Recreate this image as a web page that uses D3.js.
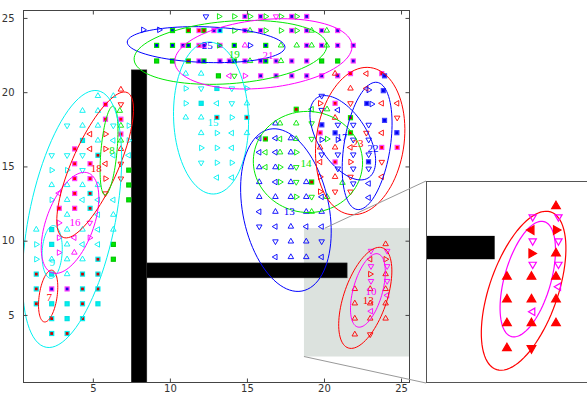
<!DOCTYPE html>
<html>
<head>
<meta charset="utf-8">
<script src="https://cdn.jsdelivr.net/npm/d3@7"></script>
<style>
  html, body { margin: 0; padding: 0; background: #fff; }
  svg { display: block; }
</style>
</head>
<body>
<svg id="chart" width="587" height="394"></svg>
<script>
// ---------- data ----------
const xTicks = [5, 10, 15, 20, 25];
const yTicks = [5, 10, 15, 20, 25];

// obstacles [x0, y0, x1, y1]
const walls = [[7.5, 0.45, 8.5, 21.5], [8.5, 7.5, 21.5, 8.5]];
// magnified region [x0, y0, x1, y1]
const zoomRegion = [18.7, 2.2, 25.55, 10.85];

// open triangle markers, one array per colour and direction
const redUp = [[6.82,20.18],[6.82,16.18],[20.72,21.25],[21.72,20.25],[20.72,18.28],[19.75,16.28],[20.72,16.28],[20.72,14.3],
  [24,9.77],[24,7.75],[22,6.75],[23,6.75],[24,6.75],[22,5.78],[23,5.78],[24,5.78],[22,4.76],[23,4.76],[24,4.76],[22,3.69]];
const redDown = [[6.82,19.18],[6.82,15.18],[6.82,14.18],[5.82,13.18],[21.72,19.25],[24.75,18.28],[22.75,17.26],[23.75,15.3],
  [21.72,14.3],[21.72,13.3],[20.72,13.3],[23,3.69]];
const redLeft = [[4.82,17.18],[4.82,16.18],[5.82,15.18],[22.75,21.25],[22.75,20.25],[23.75,19.25],[24.75,19.25],[23.75,17.26],
  [21.72,16.28],[19.75,15.3],[23.75,14.3],[23,8.75]];
const redRight = [[5.82,17.18],[5.82,16.18],[5.82,14.18],[19.75,19.25],[21.72,15.3],[19.75,14.3],[19.75,13.3],[24,8.75],[23,7.75]];

const blueUp = [[16.85,17.9],[17.85,16.9],[17.85,15.95],[15.8,14.95],[16.85,14.95],[17.85,14.95],[15.8,13.95],[17.85,13.95],
  [18.85,13.95],[15.8,12.95],[16.85,12.95],[17.85,12.95],[18.85,12.95],[16.85,11.95],[18.85,11.95],[19.85,11.95],[17.85,10.95],
  [17.85,9.95],[18.85,9.95],[17.85,8.9],[18.85,8.9]];
const blueDown = [[15.8,10.95],[16.85,9.95],[19.85,9.95],[12.34,25.1],[19.85,19.75],[19.85,18.8],[20.9,17.8],[21.9,17.8],
  [22.9,17.8],[21.9,16.8],[22.9,16.8],[19.85,15.8],[20.9,15.8],[21.9,15.8],[22.9,15.8],[20.9,14.85],[21.9,14.85],[22.9,14.85],[21.9,13.85]];
const blueLeft = [[15.8,16.9],[16.85,16.9],[15.8,15.95],[16.85,15.95],[16.85,13.95],[19.85,12.95],[15.8,11.95],[16.85,10.95],
  [18.85,10.95],[19.85,10.95],[16.85,8.9],[19.85,8.9],[20.9,18.8],[22.9,13.85],[22.9,12.9]];
const blueRight = [[8.27,24.2],[9.31,24.2],[15.2,23.15],[22.9,20.15],[23.1,19.2],[19.85,16.8],[20.9,16.8]];

const greenUp = [[6.75,18.75],[6.82,17.75],[6.82,16.75],[15.2,24.15],[19.2,24.15],[20.18,24.15],[17.21,23.15],[18.23,23.15],
  [19.2,23.15],[20.18,23.15],[15.2,22.1],[17.21,22.1],[17.15,17.9],[18.2,17.9],[18.2,16.85],[17.15,15.95],[20.2,18.85],
  [20.2,12.95],[21.2,13.9],[19.2,11.95]];
const greenDown = [[14.18,21.1],[19.2,16.85],[18.2,14.95],[18.2,13.95],[19.2,12.95],[19.2,17.9]];
const greenLeft = [[17.15,16.85],[16.2,15.95],[16.2,14.95],[19.2,18.85]];
const greenRight = [[13.19,25.1],[14.18,25.1],[15.2,25.1],[16.22,25.1],[17.21,25.1],[18.23,25.1],[14.18,24.15],[16.22,24.15],
  [17.21,24.15],[18.23,24.15],[13.19,23.15],[18.2,15.95],[17.15,14.95],[17.15,13.95],[18.2,12.95],[20.2,16.85]];

const cyanUp = [[5.33,19.75],[6.33,19.75],[4.33,18.75],[5.33,18.75],[4.33,17.75],[5.33,17.75],[5.33,16.75],[2.33,13.75],
  [3.33,13.75],[4.33,13.75],[5.33,13.75],[3.33,12.75],[3.33,11.75],[6.33,11.75],[1.33,10.75],[3.33,10.75],[4.33,10.75],
  [6.33,10.75],[3.33,9.75],[2.33,8.75],[3.33,8.75],[4.33,8.75],[3.33,7.75],[11.03,21.25],[12.03,21.25],[11.03,18.3],
  [12.03,18.3],[12.03,17.25],[15,17.25],[15,19.25]];
const cyanDown = [[3.33,17.75],[6.33,17.75],[2.33,15.75],[3.33,15.75],[4.33,15.75],[4.33,14.75],[12.03,20.25],[14.02,20.25],
  [14.02,19.25],[12.03,15.25]];
const cyanLeft = [[6.33,16.75],[6.33,15.75],[7.33,15.75],[4.33,12.75],[5.33,12.75],[6.33,12.75],[5.33,11.75],[5.33,10.75],
  [4.33,9.75],[5.33,9.75],[13.05,19.25],[14.02,17.25],[14.02,16.25],[13.05,14.25],[14.02,14.25]];
const cyanRight = [[7.33,17.75],[7.33,16.75],[2.33,14.75],[3.33,14.75],[2.33,12.75],[1.33,9.75],[1.33,8.75],[11.03,20.25],
  [15,20.25],[11.03,19.25],[14.02,18.3],[13.05,17.25],[12.03,16.25],[13.05,16.25],[13.05,15.25],[14.02,15.25]];

const magentaUp = [[3.8,9.2],[14.87,23.15]];
const magentaDown = [[4.8,11.2],[16.89,25.1],[23.05,9.31],[24.1,9.31],[23.05,8.28],[24.1,8.28],[23.05,7.28],[24.1,7.28]];
const magentaLeft = [[3.8,10.2],[2.8,13.2],[13.86,21.1],[24.1,6.32],[23.05,5.25]];
const magentaRight = [[2.8,11.2],[2.8,10.2],[4.8,10.2],[2.8,9.2],[14.87,21.1]];

// square markers: named <centre colour><edge colour>
const sqRedMagenta = [[5.82,19.18],[5.82,18.18],[6.82,18.18],[6.82,17.18],[3.82,16.18],[3.82,15.18],[4.82,15.18],[3.82,14.18],
  [4.82,14.18],[3.82,13.18],[2.82,12.18],[3.82,12.18],[11.89,24.15],[11.89,23.15],[21.72,21.25],[23.75,21.25],[20.72,19.25],
  [19.75,17.26],[23.75,16.28],[24.75,16.28],[20.72,15.3]];
const sqRedCyan = [[4.82,13.18],[4.82,12.18],[5.33,15.75],[5.33,8.75],[1.33,7.75],[4.33,7.75],[5.33,7.75],[1.33,6.75],
  [4.33,6.75],[5.33,6.75],[1.33,5.75],[4.33,5.75],[2.33,4.75],[4.33,4.75],[2.33,3.75],[3.33,3.75],[13.05,18.3],[15,18.3]];
const sqRedGreen = [[11.2,24.15],[12.21,24.15],[11.2,22.1],[16.2,16.85],[18.2,18.85],[19.2,13.95],[21.72,18.28],[21.72,17.26]];
const sqBlueMagenta = [[14.87,25.1],[15.89,25.1],[17.91,25.1],[18.88,25.1],
  [12.86,24.15],[14.87,24.15],[15.89,24.15],[17.91,24.15],[18.88,24.15],[19.85,24.15],[20.89,24.15],
  [10.85,23.15],[12.21,23.15],[13.25,23.15],[18.88,23.15],[19.85,23.15],[20.89,23.15],[21.9,23.15],
  [11.89,22.1],[13.25,22.1],[13.86,22.1],[14.87,22.1],[15.89,22.1],[16.89,22.1],[17.91,22.1],[18.88,22.1],[21.9,22.1],
  [15.89,21.1],[16.89,21.1],[17.91,21.1],[18.88,21.1],[19.85,21.1],[20.89,21.1],[2.33,6.75],[3.33,6.75]];
const sqBlueGreen = [[10.17,24.15],[9.14,23.15],[10.17,23.15],[11.2,23.15],[14.18,23.15],[16.22,23.15],[12.21,22.1],[14.18,22.1],[16.22,22.1]];
const sqBlueCyan = [[13.25,24.15]];
const sqBlue = [[23.93,21.1],[23.85,20.1],[22.78,19.24],[23.93,18.1],[24.73,17.27],[22.89,15.31],[19.86,17.8],[20.72,17.26]];
const sqGreen = [[9.14,22.1],[10.17,22.1],[19.85,22.1],[20.89,22.1],[13.15,21.1],[7.33,14.75],[7.33,13.75],[7.33,12.75],[6.33,9.75],[6.33,8.75]];
const sqCyan = [[4.33,16.75],[2.33,10.75],[2.33,9.75],[2.33,7.75],[2.33,5.75],[3.33,5.75],[5.33,5.75],[3.33,4.75],[13.05,20.25],[12.03,19.25]];

// cluster covariance ellipses: centre, semi-axes, orientation (degrees)
const clusterColor = ["red","cyan","magenta","red","green","cyan","blue","green","magenta","cyan","blue","green","blue","blue","red","red","magenta"];
const clusterCx    = [2.1, 2.36, 3.52, 5.15, 6.05, 3.65, 12.35, 13.93, 16.07, 12.67, 17.53, 18.96, 21.22, 22.8, 22.35, 22.68, 22.85];
const clusterCy    = [6.27, 9.24, 11.2, 15.1, 16.07, 11.46, 23.2, 22.68, 22.58, 18.26, 12.06, 15.3, 16.93, 16.38, 16.71, 6.15, 6.65];
const clusterA     = [1.76, 1.78, 3.56, 5.3, 3.0, 8.8, 5.12, 6.27, 5.78, 5.12, 5.55, 3.55, 3.17, 4.33, 4.99, 3.55, 2.55];
const clusterB     = [0.58, 0.65, 1.55, 1.5, 0.52, 2.8, 1.2, 2.1, 2.3, 2.43, 2.8, 3.4, 1.6, 1.5, 2.85, 1.4, 0.95];
const clusterAngle = [82, 87, 71, 67, 85, 79, -2, 4.6, 6, 92, 100.8, -10, -59, 81.4, 82.5, 72, 75];

// cluster id labels
const labelText  = ["7","9","16","18","8","15","13","14","17","23","22","19","21","25","13","10"];
const labelColor = ["red","cyan","magenta","red","green","cyan","blue","green","blue","red","blue","green","magenta","blue","red","magenta"];
const labelX     = [2.17, 2.36, 3.85, 5.22, 6.25, 12.8, 17.74, 18.84, 21.17, 22.2, 23.18, 14.17, 16.37, 12.42, 22.87, 23.05];
const labelY     = [6.2, 8.57, 11.25, 14.88, 16.09, 17.98, 11.99, 15.22, 16.97, 16.57, 16.23, 22.56, 22.49, 23.16, 6.0, 6.6];

// ---------- styles ----------
const COLORS = { red: "#ff0000", green: "#00e800", blue: "#0000ff", cyan: "#00f0f0", magenta: "#ff00ff" };

const triangleSeries = [
  { pts: redUp, dir: "up", col: "red" }, { pts: redDown, dir: "down", col: "red" },
  { pts: redLeft, dir: "left", col: "red" }, { pts: redRight, dir: "right", col: "red" },
  { pts: blueUp, dir: "up", col: "blue" }, { pts: blueDown, dir: "down", col: "blue" },
  { pts: blueLeft, dir: "left", col: "blue" }, { pts: blueRight, dir: "right", col: "blue" },
  { pts: greenUp, dir: "up", col: "green" }, { pts: greenDown, dir: "down", col: "green" },
  { pts: greenLeft, dir: "left", col: "green" }, { pts: greenRight, dir: "right", col: "green" },
  { pts: cyanUp, dir: "up", col: "cyan" }, { pts: cyanDown, dir: "down", col: "cyan" },
  { pts: cyanLeft, dir: "left", col: "cyan" }, { pts: cyanRight, dir: "right", col: "cyan" },
  { pts: magentaUp, dir: "up", col: "magenta" }, { pts: magentaDown, dir: "down", col: "magenta" },
  { pts: magentaLeft, dir: "left", col: "magenta" }, { pts: magentaRight, dir: "right", col: "magenta" }
];
const squareSeries = [
  { pts: sqCyan, fill: "#00f0f0", edge: "#00e0e0" },
  { pts: sqGreen, fill: "#00e800", edge: "#00c800" },
  { pts: sqRedCyan, fill: "#d00000", edge: "#00f0f0" },
  { pts: sqRedMagenta, fill: "#ff0000", edge: "#ff40ff" },
  { pts: sqRedGreen, fill: "#d00000", edge: "#00e800" },
  { pts: sqBlueMagenta, fill: "#2000e0", edge: "#ff40ff" },
  { pts: sqBlueGreen, fill: "#0000e0", edge: "#00e800" },
  { pts: sqBlueCyan, fill: "#0000e0", edge: "#00f0f0" },
  { pts: sqBlue, fill: "#0000f0", edge: "#4040ff" }
];

// ---------- layout ----------
const svg = d3.select("#chart");
const plot = { left: 23.5, right: 409.5, top: 10.5, bottom: 382.5 };
const x = d3.scaleLinear().domain([0.5, 25.55]).range([plot.left, plot.right]);
const y = d3.scaleLinear().domain([0.45, 25.5]).range([plot.bottom, plot.top]);

const inset = { left: 426, top: 181, width: 168, height: 202 };
const xi = d3.scaleLinear().domain([zoomRegion[0], zoomRegion[2]]).range([inset.left, inset.left + inset.width]);
const yi = d3.scaleLinear().domain([zoomRegion[1], zoomRegion[3]]).range([inset.top + inset.height, inset.top]);

const defs = svg.append("defs");
defs.append("clipPath").attr("id", "plotClip").append("rect")
  .attr("x", plot.left).attr("y", plot.top)
  .attr("width", plot.right - plot.left).attr("height", plot.bottom - plot.top);
defs.append("clipPath").attr("id", "insetClip").append("rect")
  .attr("x", inset.left).attr("y", inset.top).attr("width", inset.width).attr("height", inset.height);

function trianglePath(dir, r) {
  const base = { up: -90, down: 90, left: 180, right: 0 }[dir];
  const pts = d3.range(3).map(k => {
    const a = (base + k * 120) * Math.PI / 180;
    return [r * Math.cos(a), r * Math.sin(a)];
  });
  return "M" + pts.map(p => p[0].toFixed(2) + "," + p[1].toFixed(2)).join("L") + "Z";
}

function ellipsePath(i, sx, sy) {
  const th = clusterAngle[i] * Math.PI / 180;
  const pts = d3.range(0, 361, 4).map(t => {
    const u = t * Math.PI / 180;
    const ex = clusterA[i] * Math.cos(u), ey = clusterB[i] * Math.sin(u);
    return [clusterCx[i] + ex * Math.cos(th) - ey * Math.sin(th),
            clusterCy[i] + ex * Math.sin(th) + ey * Math.cos(th)];
  });
  return d3.line().x(d => sx(d[0])).y(d => sy(d[1]))(pts) + "Z";
}

// ---------- main panel ----------
const g = svg.append("g").attr("clip-path", "url(#plotClip)");

g.append("rect")
  .attr("x", x(zoomRegion[0])).attr("y", y(zoomRegion[3]))
  .attr("width", x(zoomRegion[2]) - x(zoomRegion[0]))
  .attr("height", y(zoomRegion[1]) - y(zoomRegion[3]))
  .attr("fill", "#dce2de");

g.selectAll("rect.wall").data(walls).join("rect").attr("class", "wall")
  .attr("x", d => x(d[0])).attr("y", d => y(d[3]))
  .attr("width", d => x(d[2]) - x(d[0])).attr("height", d => y(d[1]) - y(d[3]))
  .attr("fill", "#000").attr("stroke", "#222").attr("stroke-width", 0.6);

squareSeries.forEach(s => {
  g.append("g").selectAll("rect").data(s.pts).join("rect")
    .attr("x", d => x(d[0]) - 2).attr("y", d => y(d[1]) - 2)
    .attr("width", 4).attr("height", 4)
    .attr("fill", s.fill).attr("stroke", s.edge).attr("stroke-width", 1.2);
});

triangleSeries.forEach(s => {
  g.append("g").selectAll("path").data(s.pts).join("path")
    .attr("transform", d => `translate(${x(d[0])},${y(d[1])})`)
    .attr("d", trianglePath(s.dir, 3.2))
    .attr("fill", "none").attr("stroke", COLORS[s.col]).attr("stroke-width", 0.9);
});

g.append("g").selectAll("path").data(d3.range(clusterCx.length)).join("path")
  .attr("d", i => ellipsePath(i, x, y))
  .attr("fill", "none").attr("stroke", i => COLORS[clusterColor[i]]).attr("stroke-width", 1);

g.append("g").selectAll("text").data(d3.range(labelText.length)).join("text")
  .attr("x", i => x(labelX[i])).attr("y", i => y(labelY[i]))
  .attr("dy", "0.35em").attr("text-anchor", "middle")
  .attr("font-family", "Liberation Serif, serif").attr("font-size", 11)
  .attr("fill", i => COLORS[labelColor[i]])
  .text(i => labelText[i]);

// ---------- frame and axes ----------
svg.append("rect")
  .attr("x", plot.left).attr("y", plot.top)
  .attr("width", plot.right - plot.left).attr("height", plot.bottom - plot.top)
  .attr("fill", "none").attr("stroke", "#444").attr("stroke-width", 1);

function styleAxis(sel, showLabels) {
  sel.select(".domain").remove();
  sel.selectAll(".tick line").attr("stroke", "#444");
  sel.selectAll(".tick text")
    .attr("fill", "#333").attr("font-family", "DejaVu Sans, sans-serif").attr("font-size", 10);
  if (!showLabels) sel.selectAll(".tick text").remove();
}
svg.append("g").attr("transform", `translate(0,${plot.bottom})`)
  .call(d3.axisBottom(x).tickValues(xTicks).tickSizeInner(-4).tickSizeOuter(0).tickPadding(2))
  .call(s => styleAxis(s, true));
svg.append("g").attr("transform", `translate(0,${plot.top})`)
  .call(d3.axisTop(x).tickValues(xTicks).tickSizeInner(-4).tickSizeOuter(0))
  .call(s => styleAxis(s, false));
svg.append("g").attr("transform", `translate(${plot.left},0)`)
  .call(d3.axisLeft(y).tickValues(yTicks).tickSizeInner(-4).tickSizeOuter(0).tickPadding(9))
  .call(s => styleAxis(s, true));
svg.append("g").attr("transform", `translate(${plot.right},0)`)
  .call(d3.axisRight(y).tickValues(yTicks).tickSizeInner(-4).tickSizeOuter(0))
  .call(s => styleAxis(s, false));

// ---------- connectors to the magnified view ----------
svg.append("line")
  .attr("x1", x(20.07)).attr("y1", y(zoomRegion[3]))
  .attr("x2", inset.left).attr("y2", inset.top)
  .attr("stroke", "#999").attr("stroke-width", 1);
svg.append("line")
  .attr("x1", x(zoomRegion[0])).attr("y1", y(zoomRegion[1]))
  .attr("x2", inset.left).attr("y2", inset.top + inset.height)
  .attr("stroke", "#999").attr("stroke-width", 1);

// ---------- magnified view ----------
const gi = svg.append("g");
gi.append("rect")
  .attr("x", inset.left).attr("y", inset.top).attr("width", inset.width).attr("height", inset.height)
  .attr("fill", "#fff");
const gic = gi.append("g").attr("clip-path", "url(#insetClip)");

const inRegion = d => d[0] >= zoomRegion[0] && d[0] <= zoomRegion[2] && d[1] >= zoomRegion[1] && d[1] <= zoomRegion[3];

gic.selectAll("rect.wall").data(walls).join("rect").attr("class", "wall")
  .attr("x", d => xi(d[0])).attr("y", d => yi(d[3]))
  .attr("width", d => xi(d[2]) - xi(d[0])).attr("height", d => yi(d[1]) - yi(d[3]))
  .attr("fill", "#000");

const insetClusters = d3.range(clusterCx.length)
  .filter(i => (clusterColor[i] === "red" || clusterColor[i] === "magenta") && inRegion([clusterCx[i], clusterCy[i]]));
gic.append("g").selectAll("path").data(insetClusters).join("path")
  .attr("d", i => ellipsePath(i, xi, yi))
  .attr("fill", "none").attr("stroke", i => COLORS[clusterColor[i]]).attr("stroke-width", 1.2);

triangleSeries.filter(s => s.col === "red" || s.col === "magenta").forEach(s => {
  const filled = s.col === "red";
  gic.append("g").selectAll("path").data(s.pts.filter(inRegion)).join("path")
    .attr("transform", d => `translate(${xi(d[0])},${yi(d[1])})`)
    .attr("d", trianglePath(s.dir, filled ? 5 : 4.2))
    .attr("fill", filled ? COLORS[s.col] : "none")
    .attr("stroke", COLORS[s.col]).attr("stroke-width", 1.2);
});

gi.append("rect")
  .attr("x", inset.left + 0.5).attr("y", inset.top + 0.5)
  .attr("width", inset.width).attr("height", inset.height - 1)
  .attr("fill", "none").attr("stroke", "#555").attr("stroke-width", 1);
</script>
</body>
</html>
